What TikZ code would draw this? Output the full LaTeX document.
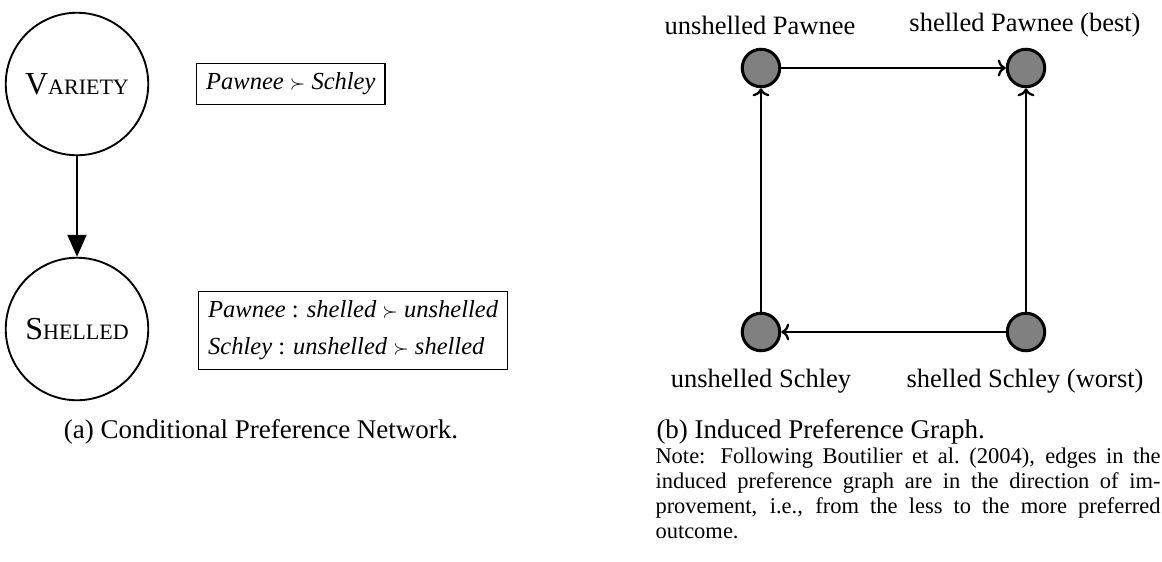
\documentclass[tikz,border=0pt]{standalone}
\usepackage{amsmath,amssymb}
\usepackage{fontspec}
\setmainfont{Liberation Serif}
\usepackage{xcolor}
\usepackage{tikz}
\usetikzlibrary{arrows.meta,positioning}
\definecolor{pgray}{RGB}{128,128,128}
\newcommand{\fakesc}[2]{{\fontsize{12.8}{14}\selectfont #1}{\fontsize{8.8}{10}\selectfont #2}}
\newcommand{\pref}{\scalebox{0.8}{$\succ$}}
\tikzset{
  var/.style   ={circle, draw, line width=0.75pt, minimum size=57pt, inner sep=0pt},
  cpt/.style   ={rectangle, draw, line width=0.55pt, align=left, inner sep=3.8pt,
                 font=\fontsize{9.8}{14.8}\selectfont},
  outc/.style  ={circle, draw, fill=pgray, line width=1.2pt, minimum size=15pt, inner sep=0pt},
  olbl/.style  ={font=\fontsize{10.6}{12}\selectfont},
  capt/.style  ={font=\fontsize{10.8}{12}\selectfont, inner sep=0pt},
  ar/.style    ={-{Triangle[length=8.8pt, width=7.6pt]}, line width=0.8pt},
  imp/.style   ={-{To[length=3.2pt, width=6.8pt]}, line width=0.9pt}
}
\begin{document}
\begin{tikzpicture}[x=0.4pt, y=-0.4pt]
\useasboundingbox (0,0) rectangle (1162,561);
% (a) network
\node[var] (variety) at (77,84) {\fakesc{V}{ARIETY}};
\node[var] (shelled) at (77,329) {\fakesc{S}{HELLED}};
\draw[ar] (variety) -- (shelled);
\node[cpt, anchor=west] (cptv) at (196,84)
  {\textit{Pawnee} \pref{} \textit{Schley}};
\node[cpt, anchor=west] (cpts) at (198,330.5)
  {\textit{Pawnee} : \textit{shelled} \pref{} \textit{unshelled}\\
   \textit{Schley} : \textit{unshelled} \pref{} \textit{shelled}};
\node[capt, anchor=base] (capa) at (261,438) {(a) Conditional Preference Network.};

% (b) induced graph
\node[outc] (up) at (761,68) {};
\node[outc] (sp) at (1026,68) {};
\node[outc] (us) at (761,332) {};
\node[outc] (ss) at (1026,332) {};
\node[olbl] (lup) at (760,25) {unshelled Pawnee};
\node[olbl] (lsp) at (1025,25) {shelled Pawnee (best)};
\node[olbl] (lus) at (761,381) {unshelled Schley};
\node[olbl] (lss) at (1025,381) {shelled Schley (worst)};
\draw[imp] (up) -- (sp);
\draw[imp] (us) -- (up);
\draw[imp] (ss) -- (sp);
\draw[imp] (ss) -- (us);
\node[capt, anchor=base west] (capb) at (656,438) {(b) Induced Preference Graph.};
\node[anchor=north west, inner sep=0pt, text width=202pt, align=justify,
      font=\fontsize{9}{10}\selectfont] (note) at (655,447)
  {Note: Following Boutilier et al.\ (2004), edges in the\linebreak
   induced preference graph are in the direction of im-\linebreak
   provement, i.e., from the less to the more preferred\linebreak
   outcome.};
\end{tikzpicture}
\end{document}
